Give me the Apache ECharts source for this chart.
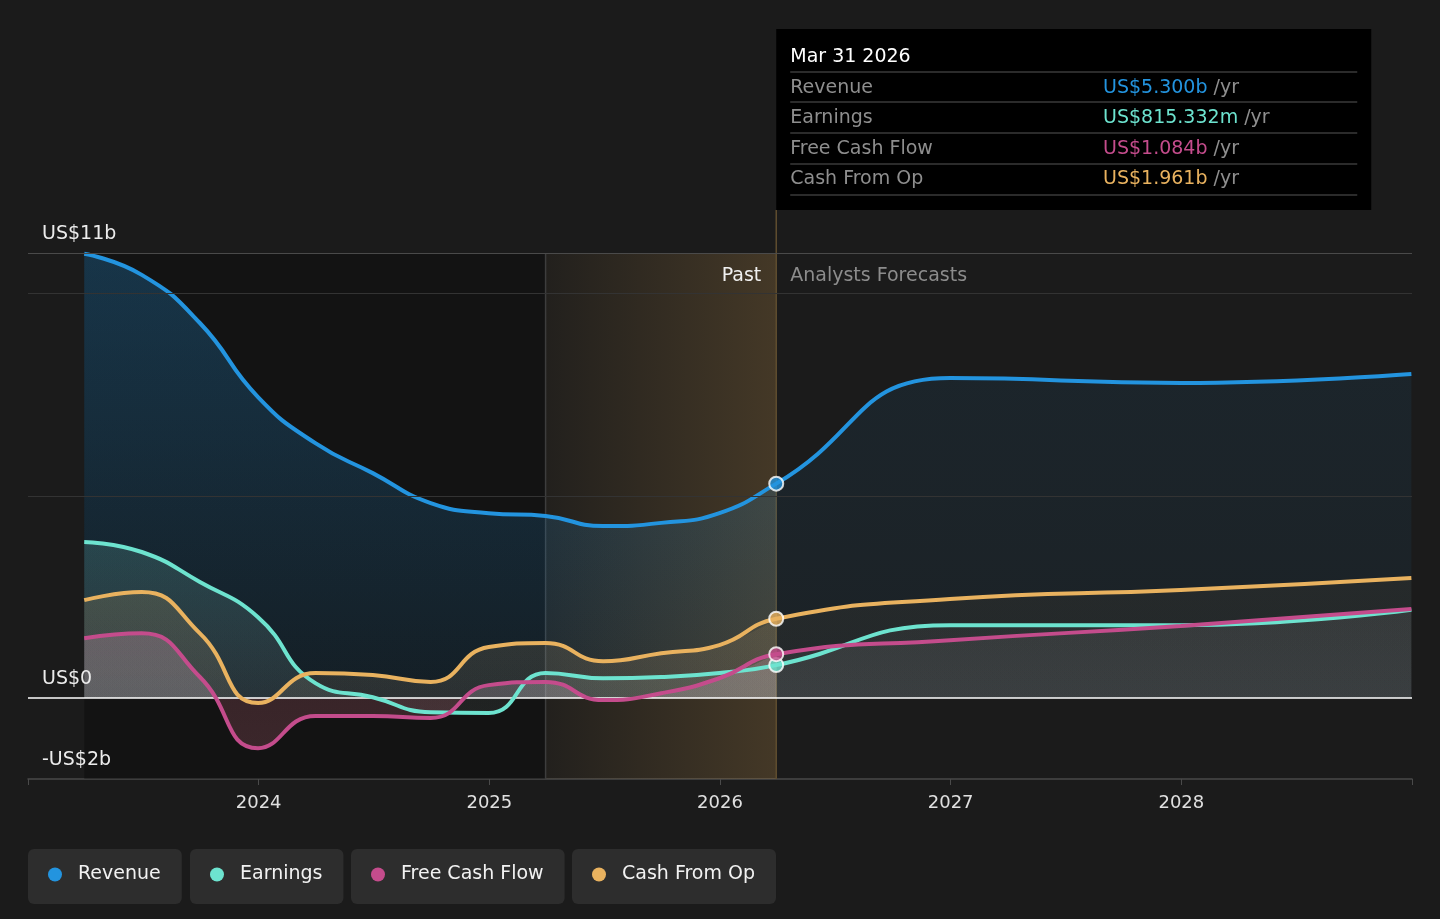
<!DOCTYPE html>
<html lang="en">
<head>
    <meta charset="UTF-8">
    <title>Revenue, Earnings and Cash Flow</title>
    <style>
        html, body { margin: 0; padding: 0; background: #1b1b1b; }
        #main { width: 1440px; height: 919px; }
    </style>
</head>
<script src="https://cdn.jsdelivr.net/npm/echarts@6/dist/echarts.min.js"></script>
<body>
<div id="main"></div>
</body>
<script>
    // quarterly history up to Mar 31 2026, then analyst forecasts (US$ billions)
    var dates = ['2023-03-31', '2023-06-30', '2023-09-30', '2023-12-31',
                 '2024-03-31', '2024-06-30', '2024-09-30', '2024-12-31',
                 '2025-03-31', '2025-06-30', '2025-09-30', '2025-12-31',
                 '2026-03-31', '2026-12-31', '2027-12-31', '2028-12-31'];
    var revenue  = [10.98, 10.46, 9.27, 7.44, 6.30, 5.56, 4.82, 4.57, 4.50, 4.25, 4.33, 4.57, 5.300, 7.91, 7.79, 8.01];
    var earnings = [3.86, 3.61, 2.87, 2.00, 0.37, 0.02, -0.35, -0.37, 0.62, 0.49, 0.52, 0.62, 0.815332, 1.80, 1.80, 2.18];
    var fcf      = [1.48, 1.60, 0.52, -1.24, -0.44, -0.44, -0.49, 0.32, 0.40, -0.05, 0.12, 0.49, 1.084, 1.43, 1.78, 2.20];
    var cfo      = [2.42, 2.62, 1.60, -0.12, 0.62, 0.57, 0.40, 1.26, 1.36, 0.91, 1.11, 1.31, 1.961, 2.45, 2.67, 2.97];

    var seriesNames = ['Revenue', 'Earnings', 'Free Cash Flow', 'Cash From Op'];
    var yTicks = [11, 0, -2];
    var yTickLabels = ['US$11b', 'US$0', '-US$2b'];
    var gridValues = [11, 10, 5];
    var xYears = [2024, 2025, 2026, 2027, 2028];
    var pastStart = '2025-03-31';   // start of the highlighted last year
    var lastActual = '2026-03-31';  // last reported point / tooltip date
    var tooltipDate = 'Mar 31 2026';

    var FONT = 'DejaVu Sans';
    var colors = ['#2394df', '#6de3cf', '#c44c8c', '#e9b25f'];
    var allData = [revenue, earnings, fcf, cfo];
    // draw order of the filled areas (revenue at the back)
    var fillOrder = [0, 1, 3, 2];

    function toYear(s) {
        var d = Date.parse(s + 'T00:00:00Z');
        var y = new Date(d).getUTCFullYear();
        var a = Date.UTC(y, 0, 1), b = Date.UTC(y + 1, 0, 1);
        return y + (d - a) / (b - a);
    }
    function fmt(v) {
        return Math.abs(v) >= 1 ? 'US$' + v.toFixed(3) + 'b' : 'US$' + (v * 1000).toFixed(3) + 'm';
    }
    function grad(stops) {
        return new echarts.graphic.LinearGradient(0, 0, 0, 1, stops.map(function (s) {
            return {offset: s[0], color: s[1]};
        }));
    }
    // gradient with a different tint below the zero line
    function splitGrad(arr, top, mid, neg) {
        var hi = Math.max(0, Math.max.apply(null, arr)), lo = Math.min(0, Math.min.apply(null, arr));
        if (lo >= 0) return grad([[0, top], [1, mid]]);
        var z = hi / (hi - lo);
        return grad([[0, top], [z, mid], [Math.min(1, z + 0.01), neg], [1, neg]]);
    }

    var lastIdx = dates.indexOf(lastActual);
    var pastPart = function (arr) { return arr.slice(0, lastIdx + 1); };

    // extra tint laid over the history part
    var pastFills = [
        function (a) { return grad([[0, 'rgba(35,148,223,0.27)'], [1, 'rgba(35,148,223,0.05)']]); },
        function (a) { return splitGrad(a, 'rgba(110,227,207,0.20)', 'rgba(170,225,215,0.08)', 'rgba(110,227,207,0.03)'); },
        function (a) { return splitGrad(a, 'rgba(230,150,190,0.26)', 'rgba(240,205,222,0.20)', 'rgba(200,55,85,0.20)'); },
        function (a) { return splitGrad(a, 'rgba(233,178,95,0.14)', 'rgba(235,205,165,0.10)', 'rgba(233,178,95,0.03)'); }
    ];
    // base tint along the whole series (what shows in the forecast part)
    var baseFills = [
        grad([[0, 'rgba(35,148,223,0.13)'], [1, 'rgba(35,148,223,0.08)']]),
        grad([[0, 'rgba(210,210,210,0.05)'], [1, 'rgba(230,230,230,0.08)']]),
        grad([[0, 'rgba(230,230,230,0.07)'], [1, 'rgba(240,240,240,0.11)']]),
        grad([[0, 'rgba(233,178,95,0.07)'], [1, 'rgba(233,200,160,0.05)']])
    ];

    var myChart = echarts.init(document.getElementById('main'));

    var series = [{
        // background bands and grid lines
        type: 'line', data: [], silent: true, z: 1,
        markArea: {
            silent: true,
            data: [
                [{xAxis: toYear(dates[0]), itemStyle: {color: 'rgba(0,0,0,0.28)'}}, {xAxis: toYear(pastStart)}],
                [{xAxis: toYear(pastStart), itemStyle: {color: new echarts.graphic.LinearGradient(0, 0, 1, 0, [
                    {offset: 0, color: 'rgba(214,160,80,0.04)'}, {offset: 1, color: 'rgba(214,160,80,0.22)'}])}},
                 {xAxis: toYear(lastActual)}]
            ]
        },
        markLine: {
            silent: true, symbol: ['none', 'none'], label: {show: false},
            lineStyle: {color: '#333', width: 1, type: 'solid'},
            data: gridValues.map(function (v, i) {
                return {yAxis: v, lineStyle: {color: i === 0 ? '#4a4a4a' : '#333', type: 'solid'}};
            })
        }
    }];

    function toPairs(arr, from) {
        return arr.map(function (v, k) { return [toYear(dates[from + k]), v]; });
    }

    fillOrder.forEach(function (i) {
        var arr = allData[i];
        series.push({
            type: 'line', data: toPairs(arr, 0), smooth: 0.5,
            showSymbol: false, symbol: 'none', silent: true, z: 2,
            lineStyle: {width: 0, opacity: 0},
            areaStyle: {color: baseFills[i], origin: 0}
        });
        series.push({
            type: 'line', data: toPairs(pastPart(arr), 0), smooth: 0.5,
            showSymbol: false, symbol: 'none', silent: true, z: 2,
            lineStyle: {width: 0, opacity: 0},
            areaStyle: {color: pastFills[i](pastPart(arr)), origin: 0}
        });
    });

    allData.forEach(function (arr, i) {
        series.push({
            name: seriesNames[i],
            type: 'line',
            data: toPairs(arr, 0),
            smooth: 0.5,
            showSymbol: false,
            symbol: 'none',
            silent: true,
            z: 4 + i,
            lineStyle: {width: 4, color: colors[i]},
            itemStyle: {color: colors[i]}
        });
    });

    series.push({
        type: 'line', data: [], silent: true, z: 3,
        markLine: {
            silent: true, symbol: ['none', 'none'], label: {show: false},
            data: [{yAxis: 0, lineStyle: {color: '#ffffff', width: 1.5, type: 'solid'}}]
        }
    });

    series.push({
        type: 'scatter', silent: true, z: 10,
        symbolSize: 14,
        data: allData.map(function (arr, i) {
            return {value: [toYear(lastActual), arr[lastIdx]],
                    itemStyle: {color: colors[i], borderColor: '#ffffff', borderWidth: 2}};
        })
    });

    var legendLeft = [28, 190, 351, 572];

    option = {
        backgroundColor: '#1b1b1b',
        animation: false,
        grid: {left: 28, right: 28, top: 253, bottom: 140},
        xAxis: {
            type: 'value', min: 2023, max: 2029, interval: 1,
            axisLine: {onZero: false, lineStyle: {color: '#4a4a4a', width: 1.5}},
            axisTick: {show: true, length: 6, lineStyle: {color: '#4a4a4a'}},
            splitLine: {show: false},
            axisLabel: {
                color: '#e0e0e0', fontSize: 18, fontFamily: FONT, margin: 15,
                formatter: function (v) { return xYears.indexOf(v) >= 0 ? String(v) : ''; }
            }
        },
        yAxis: {
            type: 'value', min: -2, max: 11,
            axisLine: {show: false}, axisTick: {show: false},
            axisLabel: {show: false}, splitLine: {show: false}
        },
        legend: seriesNames.map(function (n, i) {
            return {
                data: [n], left: legendLeft[i], top: 849,
                backgroundColor: '#2d2d2d', borderRadius: 6,
                padding: [15, 21, 19, 20],
                icon: 'circle', itemWidth: 14, itemHeight: 14,
                selectedMode: false,
                textStyle: {color: '#f2f2f2', fontSize: 19, fontFamily: FONT, lineHeight: 21, padding: [0, 0, 0, 11]}
            };
        }),
        series: series
    };
    myChart.setOption(option);

    // overlays placed through the chart's own scales
    var px = function (x) { return myChart.convertToPixel({xAxisIndex: 0}, x); };
    var py = function (y) { return myChart.convertToPixel({yAxisIndex: 0}, y); };
    var xPast = px(toYear(pastStart)), xNow = px(toYear(lastActual));
    var yTop = py(11), yBottom = py(-2);

    var g = [];
    g.push({type: 'line', z: 1, shape: {x1: xPast, y1: yTop, x2: xPast, y2: yBottom}, style: {stroke: '#3d3d3d', lineWidth: 1.5}});
    g.push({type: 'line', z: 1, shape: {x1: xNow, y1: 210, x2: xNow, y2: yBottom}, style: {stroke: '#5f4d2f', lineWidth: 1.5}});
    g.push({type: 'text', z: 20, x: xNow - 15, y: yTop + 23,
            style: {text: 'Past', fill: '#f0f0f0', font: '19px ' + FONT, align: 'right', verticalAlign: 'middle'}});
    g.push({type: 'text', z: 20, x: xNow + 14, y: yTop + 23,
            style: {text: 'Analysts Forecasts', fill: '#8c8c8c', font: '19px ' + FONT, align: 'left', verticalAlign: 'middle'}});
    yTicks.forEach(function (v, i) {
        g.push({type: 'text', z: 20, x: 42, y: py(v) - 19,
                style: {text: yTickLabels[i], fill: '#ececec', font: '19px ' + FONT, verticalAlign: 'middle'}});
    });

    // tooltip panel for the last reported date
    var boxX = xNow, boxY = 29, boxW = 595, boxH = 181;
    g.push({type: 'rect', z: 30, shape: {x: boxX, y: boxY, width: boxW, height: boxH}, style: {fill: '#000000'}});
    g.push({type: 'text', z: 31, x: boxX + 14, y: 57,
            style: {text: tooltipDate, fill: '#ffffff', font: '19px ' + FONT, verticalAlign: 'middle'}});
    var sepY = [72, 102, 133, 164, 195];
    sepY.forEach(function (y) {
        g.push({type: 'line', z: 31, shape: {x1: boxX + 14, y1: y, x2: boxX + boxW - 14, y2: y}, style: {stroke: '#3a3a3a', lineWidth: 1.5}});
    });
    var rowY = [88, 118, 149, 179];
    seriesNames.forEach(function (n, i) {
        g.push({type: 'text', z: 31, x: boxX + 14, y: rowY[i],
                style: {text: n, fill: '#8e8e8e', font: '19px ' + FONT, verticalAlign: 'middle'}});
        g.push({type: 'text', z: 31, x: 1103, y: rowY[i],
                style: {text: '{v|' + fmt(allData[i][lastIdx]) + '}{u| /yr}', verticalAlign: 'middle',
                        rich: {v: {fill: colors[i], font: '19px ' + FONT}, u: {fill: '#8e8e8e', font: '19px ' + FONT}}}});
    });

    myChart.setOption({graphic: {elements: g}});
</script>
</html>
